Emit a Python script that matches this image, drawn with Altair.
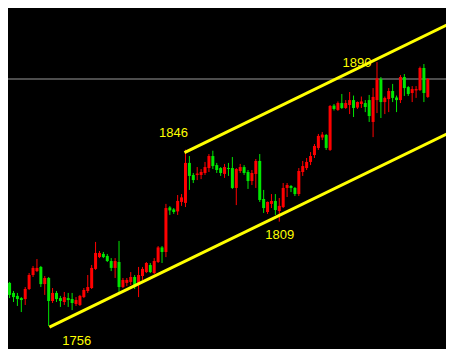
import altair as alt
import pandas as pd

# ---- candle data (index = bar number, prices) ----
opens = [1779.4, 1777.9, 1772.8, 1771.3, 1770.2, 1769.7, 1774.8, 1781.9, 1783.9, 1786.0,
         1777.3, 1780.4, 1768.7, 1772.8, 1770.2, 1768.2, 1770.2, 1769.7, 1767.2, 1766.7,
         1770.7, 1773.8, 1775.3, 1785.0, 1791.0, 1792.6, 1791.6, 1789.0, 1785.5, 1788.5,
         1775.8, 1777.9, 1778.4, 1780.9, 1777.9, 1781.4, 1783.4, 1787.0, 1782.9, 1788.5,
         1795.9, 1793.6, 1816.2, 1815.2, 1814.2, 1819.0, 1818.5, 1838.8, 1832.7, 1832.7,
         1832.7, 1833.7, 1836.2, 1842.3, 1837.7, 1836.2, 1833.2, 1836.2, 1836.2, 1826.1,
         1834.7, 1836.7, 1834.2, 1829.6, 1833.2, 1839.8, 1820.5, 1813.9, 1818.0, 1819.5,
         1814.4, 1816.4, 1826.1, 1827.1, 1826.1, 1823.0, 1834.2, 1836.2, 1839.3, 1842.8,
         1846.4, 1851.7, 1853.0, 1845.4, 1867.9, 1865.7, 1869.2, 1866.7, 1868.2, 1870.7,
         1866.9, 1868.7, 1869.2, 1870.7, 1859.6, 1870.7, 1881.4, 1869.7, 1871.2, 1875.3,
         1872.0, 1870.7, 1882.4, 1877.3, 1874.3, 1875.6, 1875.8, 1887.0, 1872.3]
highs = [1780.9, 1778.4, 1773.8, 1772.8, 1770.7, 1775.8, 1782.9, 1786.5, 1790.0, 1786.5,
         1781.4, 1780.9, 1775.3, 1773.8, 1771.3, 1773.3, 1772.8, 1772.8, 1770.7, 1771.8,
         1775.3, 1781.9, 1787.0, 1798.7, 1794.1, 1793.6, 1792.6, 1790.5, 1790.5, 1799.2,
         1780.4, 1780.4, 1783.4, 1781.9, 1786.0, 1786.0, 1788.5, 1788.0, 1790.5, 1796.6,
         1796.6, 1818.0, 1816.9, 1815.9, 1822.5, 1823.0, 1845.5, 1842.3, 1833.7, 1836.7,
         1835.7, 1839.3, 1843.3, 1845.0, 1838.8, 1836.7, 1838.3, 1838.8, 1841.8, 1836.2,
         1838.3, 1837.7, 1835.2, 1835.2, 1840.8, 1843.3, 1825.1, 1819.2, 1823.0, 1823.0,
         1821.0, 1828.6, 1828.6, 1827.6, 1826.6, 1836.2, 1839.8, 1841.3, 1844.3, 1848.4,
         1853.5, 1854.5, 1853.5, 1868.2, 1868.7, 1870.0, 1873.8, 1870.7, 1874.8, 1873.0,
         1870.0, 1872.5, 1870.7, 1873.3, 1876.8, 1890.0, 1882.4, 1872.5, 1876.8, 1878.9,
         1873.0, 1883.4, 1883.9, 1877.8, 1877.8, 1877.8, 1887.7, 1889.0, 1881.9]
lows = [1775.3, 1770.2, 1768.2, 1766.2, 1763.1, 1766.7, 1774.3, 1780.9, 1783.4, 1775.8,
        1771.8, 1756.0, 1767.7, 1768.2, 1765.7, 1766.7, 1765.7, 1764.1, 1766.2, 1766.2,
        1770.2, 1772.8, 1774.8, 1784.5, 1790.5, 1790.5, 1788.5, 1783.9, 1780.4, 1773.3,
        1775.3, 1776.3, 1776.8, 1774.8, 1770.7, 1779.4, 1782.9, 1782.9, 1782.4, 1788.0,
        1788.0, 1791.0, 1812.4, 1812.9, 1812.4, 1817.0, 1816.4, 1825.1, 1828.6, 1830.1,
        1830.6, 1832.7, 1834.2, 1835.7, 1833.7, 1832.2, 1831.2, 1832.2, 1825.6, 1817.4,
        1833.7, 1832.7, 1825.6, 1827.6, 1826.1, 1819.0, 1813.4, 1812.9, 1815.9, 1812.4,
        1809.0, 1815.9, 1821.5, 1824.0, 1822.0, 1822.0, 1832.2, 1835.2, 1837.7, 1841.3,
        1845.4, 1850.4, 1845.4, 1844.9, 1865.4, 1865.2, 1866.2, 1866.2, 1863.6, 1862.1,
        1866.2, 1866.7, 1864.6, 1859.6, 1851.9, 1864.1, 1861.6, 1863.6, 1864.6, 1869.7,
        1864.6, 1869.2, 1872.8, 1872.8, 1869.7, 1871.8, 1875.3, 1869.7, 1871.8]
closes = [1776.3, 1771.8, 1770.7, 1769.7, 1769.2, 1774.8, 1781.9, 1785.5, 1785.5, 1777.3,
          1780.4, 1768.7, 1772.8, 1769.7, 1768.7, 1770.7, 1769.2, 1767.7, 1769.2, 1771.3,
          1774.3, 1775.8, 1785.5, 1793.1, 1793.1, 1791.0, 1789.0, 1785.5, 1789.0, 1775.8,
          1779.4, 1779.4, 1780.9, 1775.8, 1781.9, 1785.0, 1788.0, 1783.4, 1789.0, 1795.9,
          1793.6, 1815.9, 1814.7, 1813.9, 1819.5, 1821.3, 1838.8, 1832.2, 1830.1, 1833.4,
          1834.2, 1836.7, 1842.3, 1837.2, 1835.2, 1833.7, 1836.7, 1835.7, 1826.1, 1835.7,
          1836.7, 1833.7, 1829.6, 1833.7, 1839.8, 1820.0, 1815.9, 1819.0, 1819.5, 1814.9,
          1817.0, 1826.1, 1827.6, 1826.1, 1823.0, 1834.7, 1837.2, 1839.3, 1842.3, 1847.4,
          1852.5, 1853.2, 1846.4, 1867.7, 1866.2, 1869.2, 1866.7, 1869.2, 1870.7, 1866.7,
          1869.7, 1870.0, 1867.2, 1862.6, 1872.3, 1881.7, 1869.7, 1871.8, 1875.3, 1871.8,
          1870.7, 1882.4, 1876.8, 1873.8, 1876.3, 1876.3, 1887.0, 1874.3, 1881.4]

# reference (last price) line
ref_price = [1881.4]

# channel lines: [bar index], [price]
lower_x = [11.2, 113.4]
lower_y = [1755.5, 1854.0]
upper_x = [45.75, 113.4]
upper_y = [1844.0, 1909.3]

# annotated extremes: text, bar index, which price
labels = ["1756", "1846", "1809", "1890"]
label_bar = [11, 46, 70, 95]

RED = "#ff0000"
GREEN = "#00e600"
YELLOW = "#ffff00"

df = pd.DataFrame({"i": list(range(len(opens))), "open": opens, "high": highs,
                   "low": lows, "close": closes})
df["dir"] = ["up" if c >= o else "down" for o, c in zip(opens, closes)]

xs = alt.Scale(domain=[1.875, 111.375], nice=False, zero=False)
ys = alt.Scale(domain=[1744.35, 1917.44], nice=False, zero=False)
col = alt.Color("dir:N", scale=alt.Scale(domain=["up", "down"], range=[RED, GREEN]), legend=None)

base = alt.Chart(df)
wicks = base.mark_rule(strokeWidth=1, clip=True).encode(
    x=alt.X("i:Q", scale=xs, axis=None),
    y=alt.Y("low:Q", scale=ys, axis=None),
    y2="high:Q",
    color=col,
)
bodies = base.mark_bar(size=3, clip=True).encode(
    x=alt.X("i:Q", scale=xs, axis=None),
    y=alt.Y("open:Q", scale=ys, axis=None),
    y2="close:Q",
    color=col,
)

ref = alt.Chart(pd.DataFrame({"v": ref_price})).mark_rule(
    color="#9a9a9a", strokeWidth=1
).encode(y=alt.Y("v:Q", scale=ys, axis=None))

lower = alt.Chart(pd.DataFrame({"x": lower_x, "y": lower_y})).mark_line(
    color=YELLOW, strokeWidth=3, clip=True
).encode(x=alt.X("x:Q", scale=xs, axis=None), y=alt.Y("y:Q", scale=ys, axis=None))
upper = alt.Chart(pd.DataFrame({"x": upper_x, "y": upper_y})).mark_line(
    color=YELLOW, strokeWidth=3, clip=True
).encode(x=alt.X("x:Q", scale=xs, axis=None), y=alt.Y("y:Q", scale=ys, axis=None))

label_price = [lows[label_bar[0]], highs[label_bar[1]], lows[label_bar[2]], highs[label_bar[3]]]
offsets = [(28, 15), (-12, -17), (0.5, 13), (-20, 0.5)]
texts = []
for t, b, p, (dx, dy) in zip(labels, label_bar, label_price, offsets):
    texts.append(
        alt.Chart(pd.DataFrame({"x": [b], "y": [p], "t": [t]})).mark_text(
            color=YELLOW, font="Liberation Sans", fontSize=13, dx=dx, dy=dy,
            align="center", baseline="middle"
        ).encode(x=alt.X("x:Q", scale=xs, axis=None), y=alt.Y("y:Q", scale=ys, axis=None), text="t:N")
    )

chart = alt.layer(ref, wicks, bodies, lower, upper, *texts).properties(
    width=438, height=341, background="black", padding=0,
    autosize=alt.AutoSizeParams(type="none"),
).configure_view(strokeWidth=0)

chart.save("out.html", embed_options={"renderer": "svg", "actions": False})
